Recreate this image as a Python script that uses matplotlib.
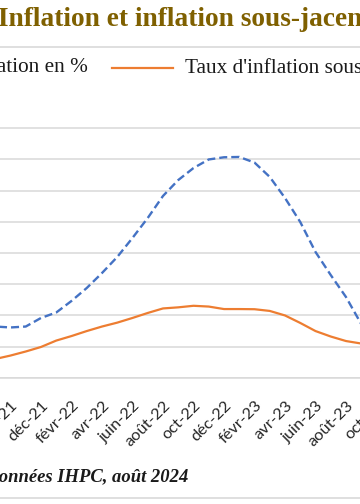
import matplotlib
matplotlib.use("Agg")
import matplotlib.pyplot as plt
from matplotlib.lines import Line2D

months = ["sept-21", "oct-21", "nov-21", "déc-21", "janv-22", "févr-22", "mars-22",
          "avr-22", "mai-22", "juin-22", "juil-22", "août-22", "sept-22", "oct-22",
          "nov-22", "déc-22", "janv-23", "févr-23", "mars-23", "avr-23", "mai-23",
          "juin-23", "juil-23", "août-23", "sept-23", "oct-23"]
inflation = [3.28, 3.22, 3.28, 3.83, 4.18, 4.92, 5.75, 6.71, 7.74, 8.96, 10.24,
             11.65, 12.67, 13.44, 13.99, 14.13, 14.15, 13.79, 12.87, 11.52, 9.98,
             8.06, 6.58, 5.17, 3.44, 2.3]
sous_jacente = [1.20, 1.42, 1.68, 1.97, 2.38, 2.67, 2.99, 3.28, 3.53, 3.83, 4.15,
                4.44, 4.51, 4.61, 4.56, 4.40, 4.40, 4.39, 4.28, 3.99, 3.51, 2.99,
                2.64, 2.35, 2.19, 2.03]
title = "Inflation et inflation sous-jacente"
leg1 = "Taux d'inflation en %"
leg2 = "Taux d'inflation sous-jacente"
source = "Source : données IHPC, août 2024"

W, H = 360, 504
fig = plt.figure(figsize=(W / 100, H / 100), dpi=100)

# axes geometry in pixels (extends beyond the figure on both sides)
px_left, px_right = -40, 400
px_bottom, px_top = 377.7, 120
x0_px, step_px = -4.75, 15.25
ax = fig.add_axes([px_left / W, (H - px_bottom) / H, (px_right - px_left) / W,
                   (px_bottom - px_top) / H])
xs = list(range(len(months)))
ax.set_xlim((px_left - x0_px) / step_px, (px_right - x0_px) / step_px)
ax.set_ylim(0, (px_bottom - px_top) / 15.6)

ax.plot(xs, inflation, color="#4472C4", lw=1.7, ls=(0, (3.4, 1.7)),
        solid_capstyle="butt", dash_capstyle="butt", solid_joinstyle="round",
        zorder=3)
ax.plot(xs, sous_jacente, color="#ED7D31", lw=1.6, solid_joinstyle="round",
        zorder=3)

ax.set_yticks(range(0, 17, 2))
ax.yaxis.grid(True, color="#d9d9d9", lw=1.1)
ax.set_axisbelow(True)
for s in ["top", "left", "right"]:
    ax.spines[s].set_visible(False)
ax.spines["bottom"].set_color("#d9d9d9")
ax.spines["bottom"].set_linewidth(1.1)
ax.tick_params(axis="y", left=False, labelleft=False)
ax.tick_params(axis="x", length=0, pad=15)
ax.set_xticks(xs[1::2])
ax.set_xticklabels(months[1::2], rotation=45, ha="right", rotation_mode="anchor",
                   fontsize=11.8, color="#262626", family="Lato")

# title and separators
fig.text(-2 / W, 1 - 20 / H, title, ha="left", va="center", fontsize=19.7,
         fontweight="bold", family="Liberation Serif", color="#7F6000")
fig.add_artist(Line2D([0, 1], [1 - 47.3 / H, 1 - 47.3 / H], color="#d9d9d9", lw=1.2))
fig.add_artist(Line2D([0, 1], [1 - 497.7 / H, 1 - 497.7 / H], color="#d9d9d9", lw=1.2))

# legend
ly = 1 - 68 / H
fig.add_artist(Line2D([-100 / W, -40 / W], [ly, ly], color="#4472C4", lw=1.7,
                      ls=(0, (3.4, 1.7))))
fig.text(88 / W, ly, leg1, ha="right", va="center", fontsize=15.3,
         family="Liberation Serif", color="#1a1a1a")
fig.add_artist(Line2D([112 / W, 173 / W], [ly, ly], color="#ED7D31", lw=1.6))
fig.text(185 / W, ly, leg2, ha="left", va="center", fontsize=15.3,
         family="Liberation Serif", color="#1a1a1a")

# source
fig.text(188 / W, 1 - 477 / H, source, ha="right", va="center", fontsize=13.4,
         fontweight="bold", fontstyle="italic", family="Liberation Serif",
         color="#1a1a1a")

fig.savefig("out.png", dpi=100)
